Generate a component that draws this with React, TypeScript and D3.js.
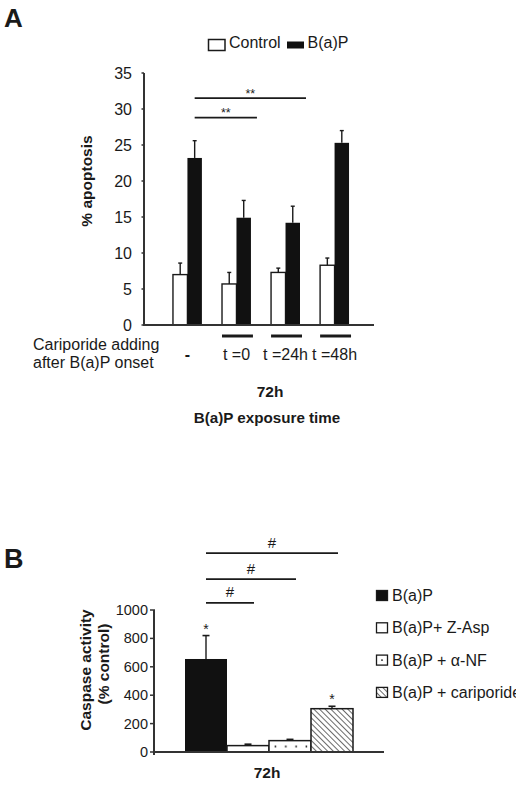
import React from "react";
import { scaleBand, scaleLinear } from "d3";

const W = 516, H = 795;
const FONT = "'Liberation Sans', Arial, Helvetica, sans-serif";
const INK = "#1a1a1a";

// panel A: % apoptosis after 72h B(a)P, cariporide added at different times
const groupsA = ["-", "t =0", "t =24h", "t =48h"];
const cariporideAdded = [false, true, true, true];
const controlMean = [7.0, 5.7, 7.3, 8.3];
const controlErr = [1.6, 1.6, 0.6, 1.0];
const bapMean = [23.2, 14.9, 14.2, 25.3];
const bapErr = [2.4, 2.4, 2.3, 1.7];
const ticksA = [0, 5, 10, 15, 20, 25, 30, 35];
// comparisons drawn above bars: from group 0 to group n, with bar height level
const sigA = [
  { to: 1, level: 28.8, label: "**" },
  { to: 2, level: 31.5, label: "**" },
];

// panel B: caspase activity
const treatments = ["B(a)P", "B(a)P+ Z-Asp", "B(a)P + \u03b1-NF", "B(a)P + cariporide"];
const caspaseMean = [655, 45, 80, 305];
const caspaseErr = [165, 10, 9, 17];
const caspaseStar = [true, false, false, true];
const ticksB = [0, 200, 400, 600, 800, 1000];
const sigB = [
  { to: 1, level: 1050 },
  { to: 2, level: 1218 },
  { to: 3, level: 1400 },
];

const fills = ["#111", "#fff", "url(#dots)", "url(#hatch)"];

function PanelA() {
  const y = scaleLinear().domain([0, 35]).range([325, 73]);
  const x = scaleBand().domain(groupsA).range([145.5, 376.5]).paddingInner(0.41).paddingOuter(0.56);
  const sub = scaleBand().domain(["control", "bap"]).range([0, x.bandwidth()]);
  const bw = sub.bandwidth();
  const axisX = 144;

  const errBar = (cx: number, v: number, e: number, key: string) => (
    <g key={key} stroke={INK} strokeWidth={1.4}>
      <line x1={cx} x2={cx} y1={y(v)} y2={y(v + e)} />
      <line x1={cx - 2} x2={cx + 2} y1={y(v + e)} y2={y(v + e)} />
    </g>
  );

  return (
    <g fontFamily={FONT} fill={INK}>
      <text x={4} y={27} fontSize={26} fontWeight="bold">A</text>

      {/* legend */}
      <rect x={208.5} y={39.5} width={16.5} height={11} fill="#fff" stroke={INK} strokeWidth={1.5} />
      <text x={229} y={48} fontSize={16}>Control</text>
      <rect x={287} y={41.5} width={17} height={7} fill="#111" />
      <text x={307.5} y={48} fontSize={16}>B(a)P</text>

      {/* y axis */}
      <line x1={axisX} x2={axisX} y1={y(35)} y2={y(0)} stroke="#333" strokeWidth={2} />
      {ticksA.map(t => (
        <g key={t}>
          <line x1={axisX - 2.5} x2={axisX} y1={y(t)} y2={y(t)} stroke="#333" strokeWidth={1.5} />
          <text x={132} y={y(t) + 5.5} fontSize={16} textAnchor="end">{t}</text>
        </g>
      ))}
      <text transform={`translate(92,181) rotate(-90)`} fontSize={15.5} fontWeight="bold" textAnchor="middle">% apoptosis</text>

      {/* bars */}
      {groupsA.map((g, i) => {
        const x0 = x(g)!;
        const xc = x0 + sub("control")!;
        const xb = x0 + sub("bap")!;
        return (
          <g key={g}>
            <rect x={xc} y={y(controlMean[i])} width={bw} height={y(0) - y(controlMean[i])} fill="#fff" stroke={INK} strokeWidth={1.4} />
            <rect x={xb} y={y(bapMean[i])} width={bw} height={y(0) - y(bapMean[i])} fill="#111" />
            {errBar(xc + bw / 2, controlMean[i], controlErr[i], "ce")}
            {errBar(xb + bw / 2, bapMean[i], bapErr[i], "be")}
            {cariporideAdded[i] && (
              <line x1={x0} x2={x0 + x.bandwidth() + 2} y1={336} y2={336} stroke={INK} strokeWidth={3} />
            )}
            <text x={x0 + x.bandwidth() / 2} y={360} fontSize={16} textAnchor="middle" fontWeight={g === "-" ? "bold" : "normal"}>{g}</text>
          </g>
        );
      })}

      {/* x axis */}
      <line x1={143} x2={374} y1={y(0)} y2={y(0)} stroke="#333" strokeWidth={2} />

      {/* significance */}
      {sigA.map(s => {
        const x1 = x(groupsA[0])! + sub("bap")! + bw / 2;
        const x2 = x(groupsA[s.to])! + x.bandwidth() + 6;
        const ly = y(s.level);
        return (
          <g key={s.to}>
            <line x1={x1} x2={x2} y1={ly} y2={ly} stroke={INK} strokeWidth={1.8} />
            <text x={(x1 + x2) / 2} y={ly - 0.5} fontSize={12.5} textAnchor="middle">{s.label}</text>
          </g>
        );
      })}

      <text x={33} y={350} fontSize={16}>Cariporide adding</text>
      <text x={33} y={368} fontSize={16}>after B(a)P onset</text>
      <text x={270} y={397} fontSize={15.5} fontWeight="bold" textAnchor="middle">72h</text>
      <text x={267} y={423} fontSize={15.2} fontWeight="bold" textAnchor="middle">B(a)P exposure time</text>
    </g>
  );
}

function PanelB() {
  const y = scaleLinear().domain([0, 1000]).range([752, 610]);
  const x = scaleBand().domain(treatments).range([185, 353]);
  const bw = x.bandwidth();
  const axisX = 154;

  return (
    <g fontFamily={FONT} fill={INK}>
      <text x={4} y={568} fontSize={27} fontWeight="bold">B</text>

      {/* y axis */}
      <line x1={axisX} x2={axisX} y1={y(1000)} y2={y(0) + 3} stroke="#333" strokeWidth={2} />
      {ticksB.map(t => (
        <g key={t}>
          <line x1={axisX - 4} x2={axisX + 1} y1={y(t)} y2={y(t)} stroke="#333" strokeWidth={1.5} />
          <text x={148} y={y(t) + 5} fontSize={14.5} textAnchor="end">{t}</text>
        </g>
      ))}
      <text transform={`translate(91,670) rotate(-90)`} fontSize={15.5} fontWeight="bold" textAnchor="middle">Caspase activity</text>
      <text transform={`translate(109,664) rotate(-90)`} fontSize={15.5} fontWeight="bold" textAnchor="middle">(% control)</text>

      {/* bars */}
      {treatments.map((t, i) => {
        const x0 = x(t)!;
        const cx = x0 + bw / 2;
        const top = y(caspaseMean[i] + caspaseErr[i]);
        return (
          <g key={t}>
            <rect x={x0} y={y(caspaseMean[i])} width={bw} height={y(0) - y(caspaseMean[i])} fill={fills[i]} stroke={INK} strokeWidth={i === 0 ? 0 : 1.5} />
            <line x1={cx} x2={cx} y1={y(caspaseMean[i])} y2={top} stroke={INK} strokeWidth={1.4} />
            <line x1={cx - 3.5} x2={cx + 3.5} y1={top} y2={top} stroke={INK} strokeWidth={1.6} />
            {caspaseStar[i] && (
              <text x={cx} y={top - 2} fontSize={14} textAnchor="middle">*</text>
            )}
          </g>
        );
      })}

      {/* x axis */}
      <line x1={axisX} x2={384} y1={y(0)} y2={y(0)} stroke="#333" strokeWidth={2} />

      {/* significance */}
      {sigB.map(s => {
        const x1 = x(treatments[0])! + bw / 2;
        const x2 = x(treatments[s.to])! + bw / 2 + 6;
        const ly = y(s.level);
        return (
          <g key={s.to}>
            <line x1={x1} x2={x2} y1={ly} y2={ly} stroke={INK} strokeWidth={1.8} />
            <text x={(x1 + x2) / 2} y={ly - 5.5} fontSize={15} textAnchor="middle">#</text>
          </g>
        );
      })}

      {/* legend; the last entry runs to the right edge */}
      {treatments.map((t, i) => {
        const ty = 590 + i * 32.3;
        return (
          <g key={t}>
            <rect x={376.5} y={ty + 0.5} width={11} height={10} fill={i === 0 ? "#111" : i === 2 ? "#fff" : fills[i]} stroke={INK} strokeWidth={1.3} />
            {i === 2 && <circle cx={382} cy={ty + 5.5} r={0.9} fill={INK} />}
            <text x={392} y={ty + 11} fontSize={16}>{t}</text>
          </g>
        );
      })}

      <text x={267} y={778} fontSize={15.5} fontWeight="bold" textAnchor="middle">72h</text>
    </g>
  );
}

export default function App() {
  return (
    <svg width={W} height={H} style={{ position: "absolute", left: 0, top: 0, background: "#fff" }}>
      <defs>
        <pattern id="hatch" patternUnits="userSpaceOnUse" width={4} height={4} patternTransform="rotate(-45)">
          <rect width={4} height={4} fill="#fff" />
          <line x1={0} x2={0} y1={0} y2={4} stroke={INK} strokeWidth={1.3} />
        </pattern>
        <pattern id="dots" patternUnits="userSpaceOnUse" x={270.5} y={741.5} width={10.3} height={20}>
          <rect width={10.3} height={20} fill="#fff" />
          <circle cx={5} cy={5} r={0.9} fill={INK} />
        </pattern>
      </defs>
      <PanelA />
      <PanelB />
    </svg>
  );
}
